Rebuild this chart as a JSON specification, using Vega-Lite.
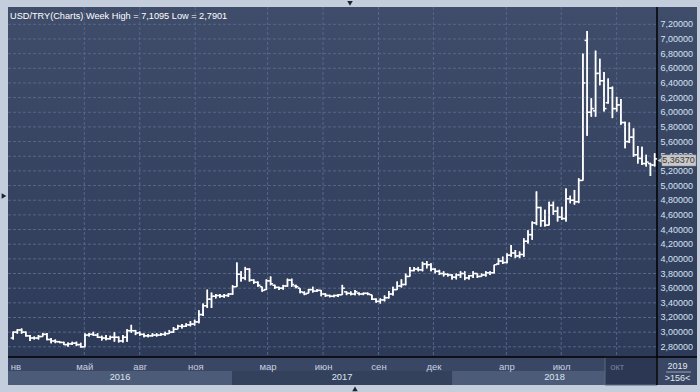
{
  "$schema": "https://vega.github.io/schema/vega-lite/v6.json",
  "width": 689,
  "height": 378,
  "autosize": "none",
  "padding": {"left": 8, "top": 7, "right": 3, "bottom": 7},
  "background": "#c3cddb",
  "config": {
    "view": {"stroke": null, "fill": {"gradient": "linear", "x1": 0, "y1": 0, "x2": 0, "y2": 1, "stops": [{"offset": 0, "color": "#3f4d6a"}, {"offset": 1, "color": "#2b3856"}]}},
    "locale": {"number": {"decimal": ",", "thousands": " ", "grouping": [3], "currency": ["", ""]}},
    "font": "Liberation Sans",
    "axis": {"title": null}
  },
  "datasets": {
    "ohlc": [
      {"date":"2016-01-04","open":2.92,"high":3.01,"low":2.90,"close":3.00},
      {"date":"2016-01-11","open":3.00,"high":3.04,"low":2.98,"close":3.03},
      {"date":"2016-01-18","open":3.03,"high":3.05,"low":2.98,"close":3.00},
      {"date":"2016-01-25","open":3.00,"high":3.01,"low":2.94,"close":2.95},
      {"date":"2016-02-01","open":2.95,"high":2.96,"low":2.88,"close":2.92},
      {"date":"2016-02-08","open":2.92,"high":2.94,"low":2.90,"close":2.92},
      {"date":"2016-02-15","open":2.92,"high":2.96,"low":2.90,"close":2.94},
      {"date":"2016-02-22","open":2.94,"high":2.99,"low":2.94,"close":2.97},
      {"date":"2016-02-29","open":2.97,"high":2.99,"low":2.89,"close":2.90},
      {"date":"2016-03-07","open":2.90,"high":2.92,"low":2.85,"close":2.88},
      {"date":"2016-03-14","open":2.88,"high":2.90,"low":2.85,"close":2.87},
      {"date":"2016-03-21","open":2.87,"high":2.88,"low":2.85,"close":2.86},
      {"date":"2016-03-28","open":2.86,"high":2.87,"low":2.825,"close":2.83},
      {"date":"2016-04-04","open":2.83,"high":2.86,"low":2.80,"close":2.84},
      {"date":"2016-04-11","open":2.84,"high":2.87,"low":2.825,"close":2.85},
      {"date":"2016-04-18","open":2.85,"high":2.87,"low":2.81,"close":2.83},
      {"date":"2016-04-25","open":2.83,"high":2.855,"low":2.7901,"close":2.80},
      {"date":"2016-05-02","open":2.80,"high":2.985,"low":2.795,"close":2.96},
      {"date":"2016-05-09","open":2.96,"high":2.99,"low":2.94,"close":2.97},
      {"date":"2016-05-16","open":2.97,"high":3.005,"low":2.95,"close":2.96},
      {"date":"2016-05-23","open":2.96,"high":2.985,"low":2.92,"close":2.93},
      {"date":"2016-05-30","open":2.93,"high":2.95,"low":2.885,"close":2.92},
      {"date":"2016-06-06","open":2.92,"high":2.96,"low":2.89,"close":2.91},
      {"date":"2016-06-13","open":2.91,"high":2.95,"low":2.90,"close":2.93},
      {"date":"2016-06-20","open":2.93,"high":3.00,"low":2.87,"close":2.93},
      {"date":"2016-06-27","open":2.93,"high":2.94,"low":2.86,"close":2.88},
      {"date":"2016-07-04","open":2.88,"high":2.96,"low":2.86,"close":2.93},
      {"date":"2016-07-11","open":2.93,"high":3.04,"low":2.87,"close":3.02},
      {"date":"2016-07-18","open":3.02,"high":3.10,"low":2.99,"close":3.02},
      {"date":"2016-07-25","open":3.02,"high":3.03,"low":2.96,"close":2.99},
      {"date":"2016-08-01","open":2.99,"high":3.01,"low":2.95,"close":2.97},
      {"date":"2016-08-08","open":2.97,"high":2.98,"low":2.93,"close":2.95},
      {"date":"2016-08-15","open":2.95,"high":2.975,"low":2.93,"close":2.95},
      {"date":"2016-08-22","open":2.95,"high":2.985,"low":2.94,"close":2.96},
      {"date":"2016-08-29","open":2.96,"high":2.985,"low":2.94,"close":2.96},
      {"date":"2016-09-05","open":2.96,"high":2.99,"low":2.95,"close":2.97},
      {"date":"2016-09-12","open":2.97,"high":3.005,"low":2.95,"close":2.98},
      {"date":"2016-09-19","open":2.98,"high":3.03,"low":2.975,"close":3.00},
      {"date":"2016-09-26","open":3.00,"high":3.07,"low":2.99,"close":3.04},
      {"date":"2016-10-03","open":3.04,"high":3.10,"low":3.04,"close":3.08},
      {"date":"2016-10-10","open":3.08,"high":3.11,"low":3.05,"close":3.08},
      {"date":"2016-10-17","open":3.08,"high":3.12,"low":3.07,"close":3.10},
      {"date":"2016-10-24","open":3.10,"high":3.15,"low":3.08,"close":3.11},
      {"date":"2016-10-31","open":3.11,"high":3.17,"low":3.09,"close":3.14},
      {"date":"2016-11-07","open":3.14,"high":3.30,"low":3.12,"close":3.24},
      {"date":"2016-11-14","open":3.24,"high":3.39,"low":3.22,"close":3.36},
      {"date":"2016-11-21","open":3.36,"high":3.58,"low":3.33,"close":3.45},
      {"date":"2016-11-28","open":3.45,"high":3.54,"low":3.33,"close":3.49},
      {"date":"2016-12-05","open":3.49,"high":3.52,"low":3.46,"close":3.50},
      {"date":"2016-12-12","open":3.50,"high":3.52,"low":3.47,"close":3.49},
      {"date":"2016-12-19","open":3.49,"high":3.52,"low":3.47,"close":3.50},
      {"date":"2016-12-26","open":3.50,"high":3.53,"low":3.48,"close":3.52},
      {"date":"2017-01-02","open":3.52,"high":3.64,"low":3.51,"close":3.62},
      {"date":"2017-01-09","open":3.62,"high":3.95,"low":3.62,"close":3.79},
      {"date":"2017-01-16","open":3.79,"high":3.83,"low":3.69,"close":3.74},
      {"date":"2017-01-23","open":3.74,"high":3.89,"low":3.71,"close":3.86},
      {"date":"2017-01-30","open":3.86,"high":3.87,"low":3.69,"close":3.71},
      {"date":"2017-02-06","open":3.71,"high":3.72,"low":3.66,"close":3.68},
      {"date":"2017-02-13","open":3.68,"high":3.69,"low":3.62,"close":3.64},
      {"date":"2017-02-20","open":3.62,"high":3.62,"low":3.55,"close":3.57},
      {"date":"2017-02-27","open":3.58,"high":3.72,"low":3.575,"close":3.70},
      {"date":"2017-03-06","open":3.70,"high":3.76,"low":3.64,"close":3.66},
      {"date":"2017-03-13","open":3.64,"high":3.645,"low":3.59,"close":3.61},
      {"date":"2017-03-20","open":3.61,"high":3.62,"low":3.575,"close":3.60},
      {"date":"2017-03-27","open":3.60,"high":3.645,"low":3.58,"close":3.63},
      {"date":"2017-04-03","open":3.63,"high":3.73,"low":3.62,"close":3.71},
      {"date":"2017-04-10","open":3.71,"high":3.73,"low":3.62,"close":3.65},
      {"date":"2017-04-17","open":3.63,"high":3.645,"low":3.60,"close":3.62},
      {"date":"2017-04-24","open":3.60,"high":3.60,"low":3.53,"close":3.55},
      {"date":"2017-05-01","open":3.54,"high":3.555,"low":3.505,"close":3.52},
      {"date":"2017-05-08","open":3.53,"high":3.59,"low":3.53,"close":3.58},
      {"date":"2017-05-15","open":3.58,"high":3.62,"low":3.54,"close":3.56},
      {"date":"2017-05-22","open":3.56,"high":3.585,"low":3.55,"close":3.57},
      {"date":"2017-05-29","open":3.57,"high":3.575,"low":3.49,"close":3.52},
      {"date":"2017-06-05","open":3.52,"high":3.53,"low":3.48,"close":3.50},
      {"date":"2017-06-12","open":3.50,"high":3.51,"low":3.475,"close":3.49},
      {"date":"2017-06-19","open":3.49,"high":3.51,"low":3.475,"close":3.50},
      {"date":"2017-06-26","open":3.50,"high":3.52,"low":3.48,"close":3.51},
      {"date":"2017-07-03","open":3.51,"high":3.645,"low":3.51,"close":3.60},
      {"date":"2017-07-10","open":3.55,"high":3.555,"low":3.505,"close":3.53},
      {"date":"2017-07-17","open":3.53,"high":3.555,"low":3.505,"close":3.52},
      {"date":"2017-07-24","open":3.52,"high":3.575,"low":3.505,"close":3.55},
      {"date":"2017-07-31","open":3.53,"high":3.54,"low":3.505,"close":3.52},
      {"date":"2017-08-07","open":3.52,"high":3.54,"low":3.505,"close":3.53},
      {"date":"2017-08-14","open":3.53,"high":3.54,"low":3.505,"close":3.52},
      {"date":"2017-08-21","open":3.51,"high":3.51,"low":3.44,"close":3.45},
      {"date":"2017-08-28","open":3.45,"high":3.46,"low":3.40,"close":3.42},
      {"date":"2017-09-04","open":3.42,"high":3.46,"low":3.39,"close":3.44},
      {"date":"2017-09-11","open":3.44,"high":3.50,"low":3.42,"close":3.47},
      {"date":"2017-09-18","open":3.47,"high":3.56,"low":3.46,"close":3.52},
      {"date":"2017-09-25","open":3.52,"high":3.62,"low":3.50,"close":3.58},
      {"date":"2017-10-02","open":3.58,"high":3.69,"low":3.58,"close":3.63},
      {"date":"2017-10-09","open":3.63,"high":3.72,"low":3.61,"close":3.65},
      {"date":"2017-10-16","open":3.65,"high":3.80,"low":3.64,"close":3.76},
      {"date":"2017-10-23","open":3.76,"high":3.89,"low":3.76,"close":3.84},
      {"date":"2017-10-30","open":3.84,"high":3.89,"low":3.83,"close":3.86},
      {"date":"2017-11-06","open":3.86,"high":3.89,"low":3.83,"close":3.85},
      {"date":"2017-11-13","open":3.85,"high":3.96,"low":3.83,"close":3.93},
      {"date":"2017-11-20","open":3.93,"high":3.97,"low":3.87,"close":3.92},
      {"date":"2017-11-27","open":3.92,"high":3.94,"low":3.83,"close":3.86},
      {"date":"2017-12-04","open":3.86,"high":3.87,"low":3.80,"close":3.83},
      {"date":"2017-12-11","open":3.83,"high":3.85,"low":3.78,"close":3.80},
      {"date":"2017-12-18","open":3.80,"high":3.83,"low":3.76,"close":3.79},
      {"date":"2017-12-25","open":3.79,"high":3.80,"low":3.76,"close":3.78},
      {"date":"2018-01-01","open":3.78,"high":3.79,"low":3.72,"close":3.75},
      {"date":"2018-01-08","open":3.75,"high":3.80,"low":3.72,"close":3.78},
      {"date":"2018-01-15","open":3.78,"high":3.83,"low":3.74,"close":3.80},
      {"date":"2018-01-22","open":3.80,"high":3.83,"low":3.71,"close":3.74},
      {"date":"2018-01-29","open":3.74,"high":3.78,"low":3.72,"close":3.77},
      {"date":"2018-02-05","open":3.77,"high":3.83,"low":3.74,"close":3.80},
      {"date":"2018-02-12","open":3.80,"high":3.80,"low":3.74,"close":3.76},
      {"date":"2018-02-19","open":3.76,"high":3.80,"low":3.76,"close":3.78},
      {"date":"2018-02-26","open":3.78,"high":3.83,"low":3.76,"close":3.81},
      {"date":"2018-03-05","open":3.81,"high":3.83,"low":3.78,"close":3.81},
      {"date":"2018-03-12","open":3.81,"high":3.92,"low":3.80,"close":3.92},
      {"date":"2018-03-19","open":3.93,"high":4.01,"low":3.92,"close":3.97},
      {"date":"2018-03-26","open":3.97,"high":4.03,"low":3.93,"close":3.95},
      {"date":"2018-04-02","open":3.95,"high":4.075,"low":3.94,"close":4.05},
      {"date":"2018-04-09","open":4.05,"high":4.19,"low":4.03,"close":4.08},
      {"date":"2018-04-16","open":4.08,"high":4.12,"low":4.01,"close":4.04},
      {"date":"2018-04-23","open":4.04,"high":4.10,"low":4.01,"close":4.06},
      {"date":"2018-04-30","open":4.06,"high":4.28,"low":4.03,"close":4.24},
      {"date":"2018-05-07","open":4.24,"high":4.39,"low":4.21,"close":4.33},
      {"date":"2018-05-14","open":4.33,"high":4.51,"low":4.26,"close":4.49},
      {"date":"2018-05-21","open":4.49,"high":4.92,"low":4.46,"close":4.70},
      {"date":"2018-05-28","open":4.70,"high":4.71,"low":4.44,"close":4.52},
      {"date":"2018-06-04","open":4.52,"high":4.67,"low":4.44,"close":4.46},
      {"date":"2018-06-11","open":4.46,"high":4.78,"low":4.46,"close":4.73},
      {"date":"2018-06-18","open":4.73,"high":4.78,"low":4.60,"close":4.65},
      {"date":"2018-06-25","open":4.65,"high":4.71,"low":4.51,"close":4.57},
      {"date":"2018-07-02","open":4.57,"high":4.71,"low":4.53,"close":4.55},
      {"date":"2018-07-09","open":4.55,"high":4.96,"low":4.51,"close":4.82},
      {"date":"2018-07-16","open":4.82,"high":4.86,"low":4.76,"close":4.80},
      {"date":"2018-07-23","open":4.80,"high":4.94,"low":4.74,"close":4.78},
      {"date":"2018-07-30","open":4.78,"high":5.10,"low":4.76,"close":5.07},
      {"date":"2018-08-06","open":5.07,"high":6.80,"low":5.07,"close":6.40},
      {"date":"2018-08-13","open":6.98,"high":7.1095,"low":5.68,"close":6.00},
      {"date":"2018-08-20","open":6.00,"high":6.19,"low":5.94,"close":6.05},
      {"date":"2018-08-27","open":6.02,"high":6.84,"low":5.94,"close":6.53},
      {"date":"2018-09-03","open":6.53,"high":6.73,"low":6.37,"close":6.43},
      {"date":"2018-09-10","open":6.43,"high":6.55,"low":6.01,"close":6.05},
      {"date":"2018-09-17","open":6.13,"high":6.46,"low":6.12,"close":6.33},
      {"date":"2018-09-24","open":6.33,"high":6.35,"low":5.92,"close":6.05},
      {"date":"2018-10-01","open":6.05,"high":6.21,"low":6.01,"close":6.10},
      {"date":"2018-10-08","open":6.10,"high":6.18,"low":5.83,"close":5.86},
      {"date":"2018-10-15","open":5.86,"high":5.87,"low":5.51,"close":5.60},
      {"date":"2018-10-22","open":5.60,"high":5.86,"low":5.58,"close":5.66},
      {"date":"2018-10-29","open":5.66,"high":5.78,"low":5.39,"close":5.42},
      {"date":"2018-11-05","open":5.42,"high":5.54,"low":5.30,"close":5.37},
      {"date":"2018-11-12","open":5.37,"high":5.53,"low":5.28,"close":5.30},
      {"date":"2018-11-19","open":5.30,"high":5.42,"low":5.26,"close":5.32},
      {"date":"2018-11-26","open":5.30,"high":5.31,"low":5.13,"close":5.28},
      {"date":"2018-12-03","open":5.28,"high":5.44,"low":5.26,"close":5.3637}
    ],
    "months": [
      {"date":"2016-05-01"},{"date":"2016-08-01"},{"date":"2016-11-01"},
      {"date":"2017-03-01"},{"date":"2017-06-01"},{"date":"2017-09-01"},{"date":"2017-12-01"},
      {"date":"2018-04-01"},{"date":"2018-07-01"},{"date":"2018-10-01"}
    ],
    "levels": [
      {"value":2.8},{"value":3.0},{"value":3.2},{"value":3.4},{"value":3.6},{"value":3.8},
      {"value":4.0},{"value":4.2},{"value":4.4},{"value":4.6},{"value":4.8},{"value":5.0},
      {"value":5.2},{"value":5.4},{"value":5.6},{"value":5.8},{"value":6.0},{"value":6.2},
      {"value":6.4},{"value":6.6},{"value":6.8},{"value":7.0},{"value":7.2}
    ]
  },
  "data": {"name": "ohlc"},
  "layer": [
    {
      "mark": {"type": "rule", "color": "#ffffff", "strokeWidth": 1.5},
      "encoding": {
        "x": {
          "field": "date", "type": "temporal",
          "scale": {"type": "utc", "domain": [{"year": 2015, "month": 12, "date": 26, "hours": 10, "minutes": 48, "utc": true}, {"year": 2018, "month": 12, "date": 6, "hours": 21, "minutes": 50, "utc": true}], "range": [0, 649], "nice": false},
          "axis": {
            "orient": "bottom", "offset": -28, "title": null, "grid": false, "ticks": false, "domain": false,
            "values": [
              {"year": 2016, "month": 1, "date": 1, "utc": true},
              {"year": 2016, "month": 5, "date": 1, "utc": true},
              {"year": 2016, "month": 8, "date": 1, "utc": true},
              {"year": 2016, "month": 11, "date": 1, "utc": true},
              {"year": 2017, "month": 3, "date": 1, "utc": true},
              {"year": 2017, "month": 6, "date": 1, "utc": true},
              {"year": 2017, "month": 9, "date": 1, "utc": true},
              {"year": 2017, "month": 12, "date": 1, "utc": true},
              {"year": 2018, "month": 4, "date": 1, "utc": true},
              {"year": 2018, "month": 7, "date": 1, "utc": true},
              {"year": 2018, "month": 10, "date": 1, "utc": true}
            ],
            "labelExpr": "(utcyear(datum.value) == 2016 && utcmonth(datum.value) == 0) ? 'нв' : ['янв','фев','мар','апр','май','июн','июл','авг','сен','окт','ноя','дек'][utcmonth(datum.value)]",
            "labelFlush": 5, "labelFlushOffset": 1,
            "labelColor": {"condition": {"test": "utcyear(datum.value) == 2018 && utcmonth(datum.value) == 9", "value": "#76839d"}, "value": "#c8d2e0"},
            "labelFontSize": 9.5, "labelPadding": 4, "labelOverlap": false, "labelBound": false, "zindex": 1
          }
        },
        "y": {
          "field": "low", "type": "quantitative",
          "scale": {"domain": [2.661, 7.436], "range": [350, 0], "nice": false, "zero": false},
          "axis": null
        },
        "y2": {"field": "high"}
      }
    },
    {
      "data": {"name": "months"},
      "mark": {"type": "rule", "color": "#56678a", "strokeWidth": 1, "strokeDash": [3, 2]},
      "encoding": {
        "x": {"field": "date", "type": "temporal"},
        "y": {"datum": 7.436, "type": "quantitative"},
        "y2": {"datum": 2.661}
      }
    },
    {
      "data": {"name": "levels"},
      "mark": {"type": "rule", "color": "#56678a", "strokeWidth": 1, "strokeDash": [3, 2]},
      "encoding": {
        "y": {"field": "value", "type": "quantitative"},
        "x": {"datum": {"year": 2015, "month": 12, "date": 26, "hours": 10, "minutes": 48, "utc": true}, "type": "temporal"},
        "x2": {"datum": {"year": 2018, "month": 12, "date": 6, "hours": 21, "minutes": 50, "utc": true}}
      }
    },
    {
      "data": {"name": "levels"},
      "mark": {"type": "text", "color": "#d6e3f5", "fontSize": 9, "align": "left", "baseline": "middle", "dx": 3.5},
      "encoding": {
        "y": {"field": "value", "type": "quantitative"},
        "x": {"datum": {"year": 2018, "month": 12, "date": 6, "hours": 21, "minutes": 50, "utc": true}, "type": "temporal"},
        "text": {"field": "value", "type": "quantitative", "format": ".5f"}
      }
    },
    {
      "data": {"values": [{}]},
      "mark": {"type": "rect", "color": "#394664"},
      "encoding": {
        "x": {"datum": {"year": 2015, "month": 12, "date": 26, "hours": 10, "minutes": 48, "utc": true}, "type": "temporal"},
        "x2": {"datum": {"year": 2019, "month": 2, "date": 11, "hours": 6, "utc": true}},
        "y": {"datum": 2.661, "type": "quantitative"},
        "y2": {"datum": 2.279}
      }
    },
    {
      "data": {"values": [
        {"year": "2016", "start": "2015-12-26T10:48:00Z", "end": "2017-01-01"},
        {"year": "2017", "start": "2017-01-01", "end": "2018-01-01"},
        {"year": "2018", "start": "2018-01-01", "end": "2018-12-06T21:50:00Z"}
      ], "format": {"parse": {"start": "date", "end": "date"}}},
      "mark": {"type": "rect"},
      "encoding": {
        "x": {"field": "start", "type": "temporal"},
        "x2": {"field": "end"},
        "y": {"datum": 2.470, "type": "quantitative"},
        "y2": {"datum": 2.279},
        "color": {"field": "year", "type": "nominal", "legend": null, "scale": {"domain": ["2016", "2017", "2018"], "range": ["#4c5b78", "#34415d", "#4c5b78"]}}
      }
    },
    {
      "data": {"values": [{}]},
      "mark": {"type": "rect", "fill": "#2b3753", "stroke": "#5d6a82", "strokeWidth": 1},
      "encoding": {
        "x": {"datum": {"year": 2018, "month": 9, "date": 11, "hours": 16, "utc": true}, "type": "temporal"},
        "x2": {"datum": {"year": 2018, "month": 12, "date": 6, "hours": 21, "minutes": 50, "utc": true}},
        "y": {"datum": 2.661, "type": "quantitative"},
        "y2": {"datum": 2.279}
      }
    },
    {
      "data": {"values": [
        {"year": "2016", "start": "2015-12-26T10:48:00Z", "end": "2017-01-01"},
        {"year": "2017", "start": "2017-01-01", "end": "2018-01-01"},
        {"year": "2018", "start": "2018-01-01", "end": "2018-12-06T21:50:00Z"}
      ], "format": {"parse": {"start": "date", "end": "date"}}},
      "transform": [{"fold": ["start", "end"]}],
      "mark": {"type": "text", "color": "#dde4ee", "fontSize": 9.3, "align": "center", "baseline": "middle"},
      "encoding": {
        "x": {"aggregate": "mean", "field": "value", "type": "temporal"},
        "y": {"datum": 2.388, "type": "quantitative"},
        "text": {"field": "year", "type": "nominal"}
      }
    },
    {
      "data": {"values": [{}]},
      "mark": {"type": "rule", "color": "#000000", "strokeWidth": 1.5},
      "encoding": {
        "x": {"datum": {"year": 2018, "month": 12, "date": 6, "hours": 21, "minutes": 50, "utc": true}, "type": "temporal"}
      }
    },
    {
      "data": {"values": [{}]},
      "mark": {"type": "rule", "color": "#000000", "strokeWidth": 1.5},
      "encoding": {
        "y": {"datum": 2.661, "type": "quantitative"}
      }
    },
    {
      "mark": {"type": "rule", "color": "#ffffff", "strokeWidth": 1.5},
      "encoding": {
        "x": {"field": "date", "type": "temporal"},
        "y": {"field": "low", "type": "quantitative"},
        "y2": {"field": "high"}
      }
    },
    {
      "mark": {"type": "rule", "color": "#ffffff", "strokeWidth": 1.5, "xOffset": -2.5, "x2Offset": 0},
      "encoding": {
        "x": {"field": "date", "type": "temporal"},
        "x2": {"field": "date"},
        "y": {"field": "open", "type": "quantitative"}
      }
    },
    {
      "mark": {"type": "rule", "color": "#ffffff", "strokeWidth": 1.5, "xOffset": 0, "x2Offset": 2.5},
      "encoding": {
        "x": {"field": "date", "type": "temporal"},
        "x2": {"field": "date"},
        "y": {"field": "close", "type": "quantitative"}
      }
    },
    {
      "data": {"values": [{"price": 5.3637}]},
      "mark": {"type": "point", "shape": "triangle-left", "filled": true, "color": "#c8c8c8", "opacity": 1, "size": 22, "yOffset": 1.5},
      "encoding": {
        "x": {"datum": {"year": 2018, "month": 12, "date": 11, "hours": 1, "minutes": 30, "utc": true}, "type": "temporal"},
        "y": {"field": "price", "type": "quantitative"}
      }
    },
    {
      "data": {"values": [{"price": 5.3637}]},
      "mark": {"type": "rect", "fill": "#c9c9c9", "stroke": "#9a9a9a", "strokeWidth": 0.5, "yOffset": -4, "y2Offset": 7},
      "encoding": {
        "x": {"datum": {"year": 2018, "month": 12, "date": 15, "hours": 5, "utc": true}, "type": "temporal"},
        "x2": {"datum": {"year": 2019, "month": 2, "date": 9, "hours": 14, "utc": true}},
        "y": {"field": "price", "type": "quantitative"},
        "y2": {"field": "price"}
      }
    },
    {
      "data": {"values": [{"price": 5.3637}]},
      "mark": {"type": "text", "color": "#3a3a3a", "fontSize": 9, "align": "center", "baseline": "middle", "dy": 1.5},
      "encoding": {
        "x": {"datum": {"year": 2019, "month": 1, "date": 11, "hours": 14, "utc": true}, "type": "temporal"},
        "y": {"field": "price", "type": "quantitative"},
        "text": {"field": "price", "type": "quantitative", "format": ".5f"}
      }
    },
    {
      "data": {"values": [{}]},
      "mark": {"type": "text", "color": "#ffffff", "fontSize": 9.2, "align": "left", "baseline": "middle", "dx": 2},
      "encoding": {
        "x": {"datum": {"year": 2015, "month": 12, "date": 26, "hours": 10, "minutes": 48, "utc": true}, "type": "temporal"},
        "y": {"datum": 7.32, "type": "quantitative"},
        "text": {"value": "USD/TRY(Charts) Week High = 7,1095 Low = 2,7901"}
      }
    },
    {
      "data": {"values": [{}]},
      "mark": {"type": "text", "color": "#e0e6ef", "fontSize": 9, "align": "center", "baseline": "middle"},
      "encoding": {
        "x": {"datum": {"year": 2019, "month": 1, "date": 9, "hours": 22, "utc": true}, "type": "temporal"},
        "y": {"datum": 2.538, "type": "quantitative"},
        "text": {"value": "2019"}
      }
    },
    {
      "data": {"values": [{}]},
      "mark": {"type": "rule", "color": "#9aa6ba", "strokeWidth": 1},
      "encoding": {
        "x": {"datum": {"year": 2018, "month": 12, "date": 21, "hours": 20, "utc": true}, "type": "temporal"},
        "x2": {"datum": {"year": 2019, "month": 2, "date": 1, "hours": 7, "utc": true}},
        "y": {"datum": 2.456, "type": "quantitative"}
      }
    },
    {
      "data": {"values": [{}]},
      "mark": {"type": "text", "color": "#e0e6ef", "fontSize": 9, "align": "center", "baseline": "middle"},
      "encoding": {
        "x": {"datum": {"year": 2019, "month": 1, "date": 9, "hours": 22, "utc": true}, "type": "temporal"},
        "y": {"datum": 2.368, "type": "quantitative"},
        "text": {"value": ">156<"}
      }
    },
    {
      "data": {"values": [{}]},
      "mark": {"type": "point", "shape": "triangle-right", "filled": true, "color": "#1b2333", "opacity": 1, "size": 30},
      "encoding": {
        "x": {"datum": {"year": 2015, "month": 12, "date": 19, "hours": 20, "utc": true}, "type": "temporal"},
        "y": {"datum": 4.858, "type": "quantitative"}
      }
    },
    {
      "data": {"values": [{}]},
      "mark": {"type": "point", "shape": "triangle-down", "filled": true, "color": "#1b2333", "opacity": 1, "size": 30},
      "encoding": {
        "x": {"datum": {"year": 2017, "month": 7, "date": 15, "hours": 17, "utc": true}, "type": "temporal"},
        "y": {"datum": 7.485, "type": "quantitative"}
      }
    },
    {
      "data": {"values": [{}]},
      "mark": {"type": "point", "shape": "triangle-up", "filled": true, "color": "#1b2333", "opacity": 1, "size": 30},
      "encoding": {
        "x": {"datum": {"year": 2017, "month": 7, "date": 24, "utc": true}, "type": "temporal"},
        "y": {"datum": 2.225, "type": "quantitative"}
      }
    }
  ]
}
